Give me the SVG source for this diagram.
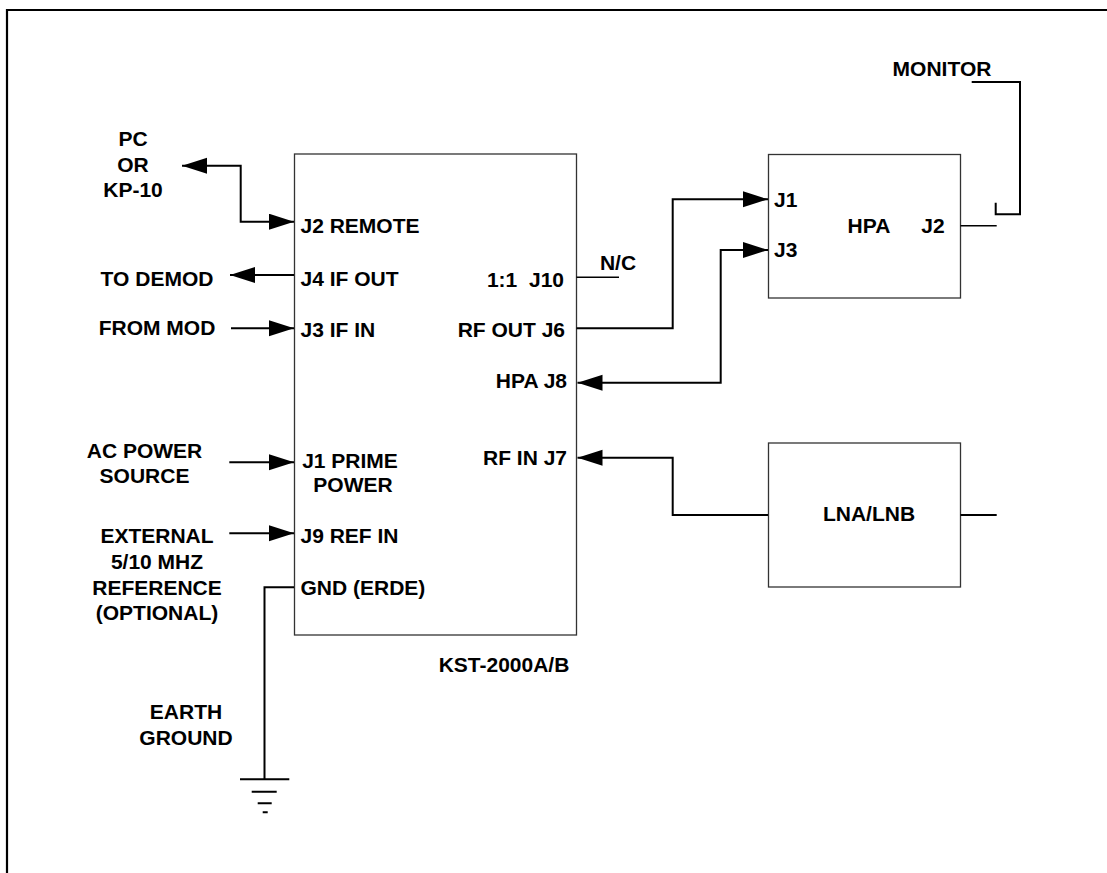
<svg xmlns="http://www.w3.org/2000/svg" width="1107" height="873" viewBox="0 0 1107 873">
<style>
text{font-family:"Liberation Sans",Arial,sans-serif;font-weight:bold;font-size:21px;fill:#000}
.box{fill:#fff;stroke:#333;stroke-width:1.3}
.c{fill:none;stroke:#000;stroke-width:2}
.t{fill:none;stroke:#000;stroke-width:1.5}
.m{text-anchor:middle}
.e{text-anchor:end}
</style>
<defs>
<marker id="ah" markerUnits="userSpaceOnUse" markerWidth="26" markerHeight="17" refX="25" refY="8" orient="auto-start-reverse">
<path d="M0,0 L25,8 L0,16 z" fill="#000"/>
</marker>
</defs>
<rect width="1107" height="873" fill="#fff"/>
<path d="M7,873 V10 H1107" fill="none" stroke="#000" stroke-width="2.2"/>

<g id="kst">
<rect class="box" x="294.5" y="154" width="282" height="481"/>
<text x="300.5" y="233">J2 REMOTE</text>
<text x="300.5" y="286">J4 IF OUT</text>
<text x="300.5" y="337">J3 IF IN</text>
<text x="350" y="468" class="m">J1 PRIME</text>
<text x="353" y="492" class="m">POWER</text>
<text x="300.5" y="543">J9 REF IN</text>
<text x="300.5" y="595">GND (ERDE)</text>
<text x="564" y="287" class="e" xml:space="preserve">1:1  J10</text>
<text x="565" y="337" class="e">RF OUT J6</text>
<text x="567" y="388" class="e">HPA J8</text>
<text x="567" y="465" class="e">RF IN J7</text>
<text x="504" y="672" class="m">KST-2000A/B</text>
</g>

<g id="hpa">
<rect class="box" x="768.5" y="154.5" width="192" height="143.5"/>
<text x="774" y="207">J1</text>
<text x="774" y="257">J3</text>
<text x="869" y="233" class="m">HPA</text>
<text x="933" y="233" class="m">J2</text>
</g>

<g id="lna">
<rect class="box" x="768.5" y="443" width="192" height="144"/>
<text x="869" y="521" class="m">LNA/LNB</text>
</g>

<g id="labels">
<text x="133" y="146" class="m">PC</text>
<text x="133" y="172" class="m">OR</text>
<text x="133" y="197" class="m">KP-10</text>
<text x="157" y="286" class="m">TO DEMOD</text>
<text x="157" y="335" class="m">FROM MOD</text>
<text x="144.5" y="458" class="m">AC POWER</text>
<text x="144.5" y="483" class="m">SOURCE</text>
<text x="157" y="543" class="m">EXTERNAL</text>
<text x="157" y="569" class="m">5/10 MHZ</text>
<text x="157" y="595" class="m">REFERENCE</text>
<text x="157" y="620" class="m">(OPTIONAL)</text>
<text x="186" y="719" class="m">EARTH</text>
<text x="186" y="745" class="m">GROUND</text>
<text x="618" y="270" class="m">N/C</text>
<text x="942" y="76" class="m">MONITOR</text>
</g>

<g id="connectors">
<path class="c" d="M182,165.7 H240.7 V221.7 H294" marker-start="url(#ah)" marker-end="url(#ah)"/>
<path class="c" d="M294,275 H230" marker-end="url(#ah)"/>
<path class="c" d="M231,328.3 H294" marker-end="url(#ah)"/>
<path class="c" d="M229.3,462.3 H294" marker-end="url(#ah)"/>
<path class="c" d="M229.3,533.3 H294" marker-end="url(#ah)"/>
<path class="c" d="M294,587.3 H264.5 V779.3"/>
<path class="c" d="M240,779.3 H289.3 M251.7,791.7 H276.7 M257.7,803.3 H271.7 M262.7,812.3 H267.7"/>
<path class="t" d="M576.5,277.3 H619"/>
<path class="c" d="M576.5,328.3 H672.7 V199.3 H768" marker-end="url(#ah)"/>
<path class="c" d="M768,250 H720.7 V382.7 H577.5" marker-start="url(#ah)" marker-end="url(#ah)"/>
<path class="c" d="M768,515 H672.7 V457.7 H577.5" marker-end="url(#ah)"/>
<path class="c" d="M960.5,515 H996.7"/>
<path class="t" d="M960.5,225.7 H996.7"/>
<path class="c" d="M971.7,82 H1020 V214.3 H995.7 V202.7"/>
</g>
</svg>
